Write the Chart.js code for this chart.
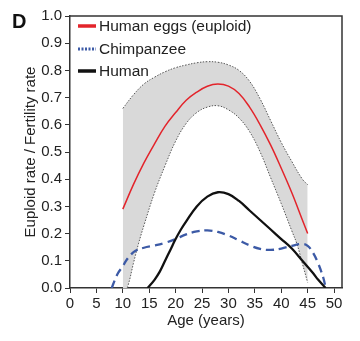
<!DOCTYPE html>
<html><head><meta charset="utf-8">
<script src="https://cdn.jsdelivr.net/npm/chart.js@4/dist/chart.umd.min.js"></script>
<style>html,body{margin:0;padding:0;background:#fff;}#wrap{width:360px;height:341px;}</style>
</head><body><div id="wrap"><canvas id="c" width="360" height="341"></canvas></div>
<script>
const xTickLabels = [0,5,10,15,20,25,30,35,40,45,50];
const yTickLabels = [0,0.1,0.2,0.3,0.4,0.5,0.6,0.7,0.8,0.9,1.0];
const seriesNames = ['Human eggs (euploid)','Chimpanzee','Human'];

const eggAges    = [10,12,14,16,18,20,22,24,26,28,30,32,34,36,38,40,42,44,45];
const eggEuploid = [0.29,0.38,0.46,0.53,0.595,0.645,0.69,0.72,0.742,0.75,0.742,0.715,0.665,0.60,0.525,0.44,0.35,0.25,0.20];

const upperAges  = [10,12,14,16,18,20,22,24,26,28,30,32,34,36,38,40,42,44,45];
const upperBound = [0.66,0.71,0.75,0.775,0.795,0.81,0.82,0.828,0.832,0.83,0.82,0.80,0.76,0.695,0.615,0.535,0.465,0.40,0.38];

const lowerAges  = [10,11,12,13,14,16,18,20,22,24,26,28,30,32,34,36,38,40,42,43,44,45];
const lowerBound = [-0.04,0.01,0.09,0.165,0.23,0.35,0.45,0.54,0.605,0.645,0.665,0.67,0.655,0.625,0.575,0.50,0.405,0.31,0.21,0.16,0.09,0.02];

const chimpAges  = [7.9,8.5,9.1,10,10.6,11.5,12.4,14,16,18,20,22,24,26,28,30,32,34,36,38,40,42,44,45,46,47,48,48.4];
const chimpRate  = [0,0.03,0.055,0.08,0.10,0.122,0.137,0.148,0.156,0.166,0.18,0.197,0.208,0.212,0.206,0.193,0.175,0.157,0.144,0.14,0.145,0.155,0.162,0.155,0.13,0.09,0.035,0];

const humanAges  = [14.7,16,17,18,19,20,21,22,24,26,28,30,32,34,36,38,40,42,44,46,47,48.4];
const humanRate  = [0,0.03,0.06,0.10,0.14,0.18,0.215,0.245,0.30,0.336,0.352,0.345,0.32,0.285,0.25,0.215,0.18,0.145,0.10,0.055,0.03,0];

const pts = (xs, ys) => xs.map((x, i) => ({x, y: ys[i]}));
const FONT = "'Liberation Sans', Arial, sans-serif";
const RED = '#e3242b', BLUE = '#3c5aa6', BLACK = '#111111';

const overlay = {
  id: 'overlay',
  afterDraw(chart) {
    const ctx = chart.ctx, a = chart.chartArea;
    ctx.save();
    ctx.strokeStyle = '#333';
    ctx.lineWidth = 1.5;
    ctx.beginPath();
    ctx.moveTo(a.left, a.top); ctx.lineTo(a.right, a.top); ctx.lineTo(a.right, a.bottom);
    ctx.stroke();
    ctx.fillStyle = '#111';
    ctx.font = "bold 20px " + FONT;
    ctx.textBaseline = 'middle';
    ctx.textAlign = 'left';
    ctx.fillText('D', 12, 22);
    ctx.font = "15.5px " + FONT;
    ctx.fillStyle = '#222';
    const items = [
      {y: 26, color: RED, dash: [], w: 3.5},
      {y: 49, color: BLUE, dash: [2, 1.5], w: 3},
      {y: 71, color: BLACK, dash: [], w: 3.5}
    ];
    items.forEach((it, i) => {
      ctx.strokeStyle = it.color; ctx.lineWidth = it.w; ctx.setLineDash(it.dash);
      ctx.beginPath(); ctx.moveTo(78, it.y); ctx.lineTo(96, it.y); ctx.stroke();
      ctx.setLineDash([]);
      ctx.fillText(seriesNames[i], 99, it.y + 1);
    });
    ctx.restore();
  }
};

const lineBase = {pointRadius: 0, tension: 0.4, fill: false};

new Chart(document.getElementById('c'), {
  type: 'line',
  data: {
    datasets: [
      Object.assign({}, lineBase, {data: pts(upperAges, upperBound), borderColor: '#555', borderWidth: 1, borderDash: [1.5, 1.5],
       backgroundColor: '#d9d9d9', fill: '+1', order: 5}),
      Object.assign({}, lineBase, {data: pts(lowerAges, lowerBound), borderColor: '#555', borderWidth: 1, borderDash: [1.5, 1.5], order: 4}),
      Object.assign({}, lineBase, {data: pts(eggAges, eggEuploid), borderColor: RED, borderWidth: 1.5, order: 3}),
      Object.assign({}, lineBase, {data: pts(chimpAges, chimpRate), borderColor: BLUE, borderWidth: 2.3, borderDash: [8, 5], order: 2}),
      Object.assign({}, lineBase, {data: pts(humanAges, humanRate), borderColor: BLACK, borderWidth: 2.3, order: 1})
    ]
  },
  options: {
    responsive: false,
    animation: false,
    devicePixelRatio: 1,
    layout: {padding: {left: 0, right: 18, top: 16, bottom: 0}},
    plugins: {legend: {display: false}, tooltip: {enabled: false}},
    scales: {
      x: {
        type: 'linear', min: 0, max: 51.5,
        afterBuildTicks: s => { s.ticks = xTickLabels.map(v => ({value: v})); },
        afterFit: s => { s.height = 53; },
        grid: {drawOnChartArea: false, drawTicks: true, tickLength: 5, color: '#333'},
        border: {color: '#333', width: 1.5},
        ticks: {color: '#222', font: {family: FONT, size: 15}, padding: 2, maxRotation: 0},
        title: {display: true, text: 'Age (years)', color: '#222', font: {family: FONT, size: 15}, padding: {top: 0, bottom: 11}}
      },
      y: {
        type: 'linear', min: 0, max: 1,
        afterBuildTicks: s => { s.ticks = yTickLabels.map(v => ({value: v})); },
        afterFit: s => { s.width = 70; },
        grid: {drawOnChartArea: false, drawTicks: true, tickLength: 5, color: '#333'},
        border: {color: '#333', width: 1.5},
        ticks: {color: '#222', font: {family: FONT, size: 15}, padding: 3, callback: v => Number(v).toFixed(1)},
        title: {display: true, text: 'Euploid rate / Fertility rate', color: '#222', font: {family: FONT, size: 15}, padding: {top: 22, bottom: 0}}
      }
    }
  },
  plugins: [overlay]
});
</script>
</body></html>
